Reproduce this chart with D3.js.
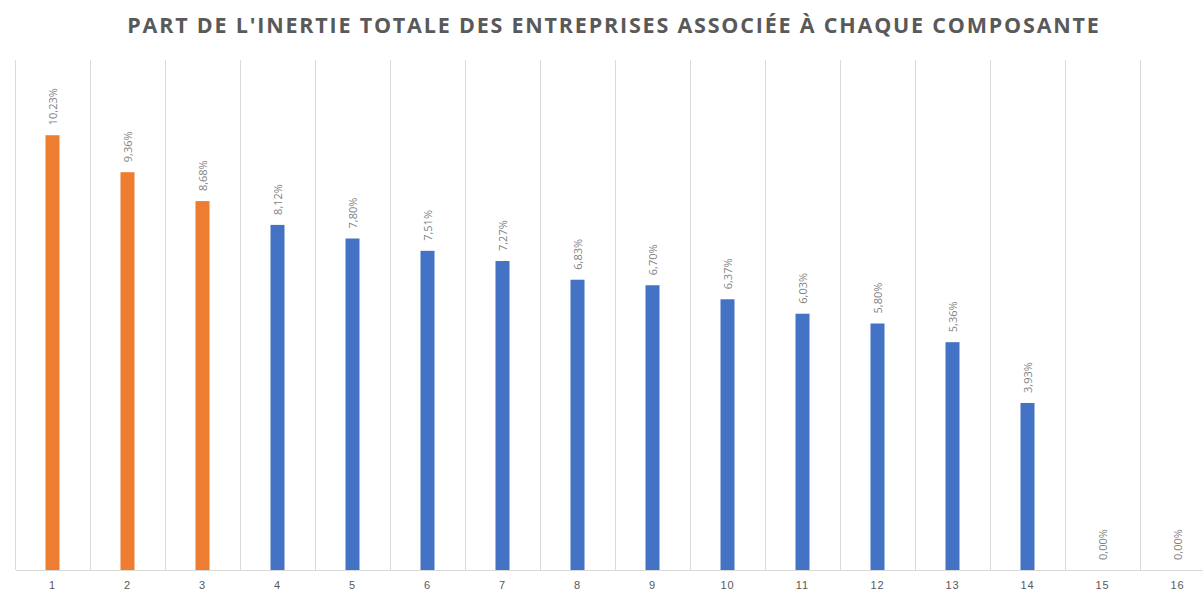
<!DOCTYPE html>
<html>
<head>
<meta charset="utf-8">
<script src="https://cdn.jsdelivr.net/npm/d3@7"></script>
<style>
  body { margin:0; background:#fff; }
  svg { display:block; font-family:"Open Sans", "Liberation Sans", sans-serif; }
</style>
</head>
<body>
<div id="canvas"></div>
<script>
// composantes + part de l'inertie (en %)
var composantes = ['1','2','3','4','5','6','7','8','9','10','11','12','13','14','15','16'];
var inertie = [10.23, 9.36, 8.68, 8.12, 7.80, 7.51, 7.27, 6.83, 6.70, 6.37, 6.03, 5.80, 5.36, 3.93, 0.00, 0.00];
var retenues = ['1','2','3']; // composantes en orange
var titre = "PART DE L'INERTIE TOTALE DES ENTREPRISES ASSOCIÉE À CHAQUE COMPOSANTE";

var W = 1203, H = 592;
var m = {t:60, l:15, b:22};

var svg = d3.select('#canvas')
    .append('svg')
    .attr('width', W)
    .attr('height', H);

var scaleX = d3.scaleBand()
    .domain(composantes)
    .range([m.l, m.l + 75*16])
    .padding(0);

var scaleY = d3.scaleLinear()
    .domain([0, 12])
    .range([H - m.b, m.t]);

var fmt = function(v){ return v.toFixed(2).replace('.', ',') + '%'; };

// gridlines verticales
var grid = svg.append('g').attr('class','grid');
composantes.forEach(function(c){
    grid.append('line')
        .attr('x1', scaleX(c)).attr('x2', scaleX(c))
        .attr('y1', scaleY(12)).attr('y2', scaleY(0))
        .attr('stroke', '#d9d9d9').attr('stroke-width', 1).attr('shape-rendering','crispEdges');
});

// axe x
var axisX = d3.axisBottom(scaleX).tickSize(0).tickPadding(11);
var gx = svg.append('g')
    .attr('transform', 'translate(0,' + scaleY(0) + ')')
    .call(axisX);
gx.select('.domain').attr('stroke', '#d9d9d9').attr('shape-rendering','crispEdges');
gx.selectAll('text')
    .attr('fill', '#595959')
    .style('font-size', '11px')
    .style('letter-spacing', '1px');

var data = composantes.map(function(c, i){ return {c:c, v:inertie[i]}; });
var bw = 14;

svg.selectAll('rect.bar')
    .data(data)
    .enter()
    .append('rect')
    .attr('class', 'bar')
    .attr('x', function(d){ return scaleX(d.c) + scaleX.bandwidth()/2 - bw/2; })
    .attr('y', function(d){ return scaleY(d.v); })
    .attr('width', bw)
    .attr('height', function(d){ return scaleY(0) - scaleY(d.v); })
    .attr('fill', function(d){ return retenues.indexOf(d.c) >= 0 ? '#ed7d31' : '#4472c4'; });

svg.selectAll('text.lab')
    .data(data)
    .enter()
    .append('text')
    .attr('class', 'lab')
    .attr('transform', function(d){
        var x = scaleX(d.c) + scaleX.bandwidth()/2 + 4;
        var y = scaleY(d.v) - 10;
        return 'translate(' + x + ',' + y + ') rotate(-90)';
    })
    .attr('fill', '#7f7f7f')
    .style('font-size', '11px')
    .text(function(d){ return fmt(d.v); });

svg.append('text')
    .attr('x', 614)
    .attr('y', 33)
    .attr('text-anchor', 'middle')
    .attr('fill', '#595959')
    .style('font-size', '21.5px')
    .style('font-weight', 'bold')
    .style('letter-spacing', '1.8px')
    .text(titre);
</script>
</body>
</html>
